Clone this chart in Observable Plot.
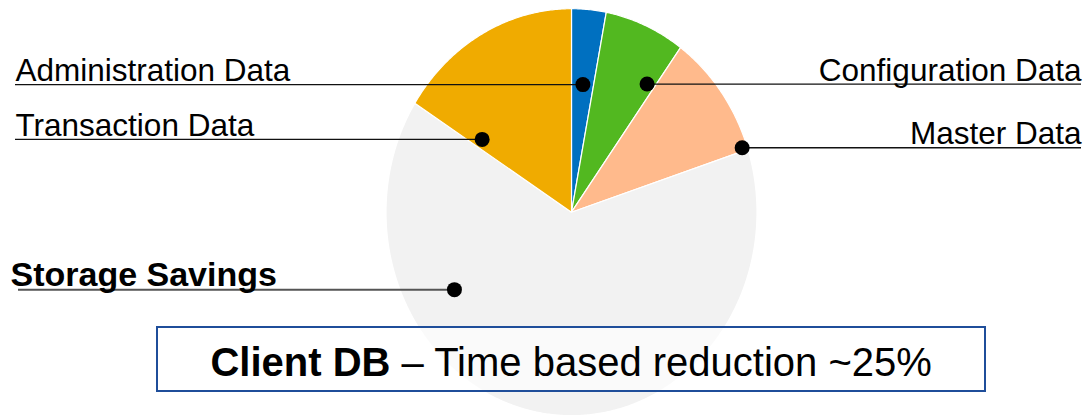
<!DOCTYPE html>
<html>
<head>
<meta charset="utf-8">
<script src="https://cdn.jsdelivr.net/npm/d3@7"></script>
<script src="https://cdn.jsdelivr.net/npm/@observablehq/plot@0.6"></script>
<style>
  html, body { margin: 0; padding: 0; background: #ffffff; }
  #chart { width: 1087px; height: 417px; overflow: hidden; }
</style>
</head>
<body>
<div id="chart"></div>
<script>
// ---- data ----
const categories = ["Administration Data", "Configuration Data", "Master Data", "Storage Savings", "Transaction Data"];
const shares = [3, 7, 10, 64, 16];
const colors = ["#0070C0", "#52B820", "#FFBA8C", "#F2F2F2", "#F0AB00"];
// where each callout dot sits: angle (deg, clockwise from 12 o'clock) and fraction of radius
const anchorAngles = [5.6, 32.9, 71, 238.9, 306.6];
const anchorRadii = [0.63, 0.75, 0.973, 0.737, 0.60];
const labelSides = ["left", "right", "right", "left", "left"];
const captionBold = "Client DB";
const captionRest = " \u2013 Time based reduction ~25%";

// ---- layout ----
const W = 1087, H = 417;
const CX = 571, CY = 211.7, RX = 185.5, RY = 203.5;   // pie centre & radii in pixels
const mL = 15, mR = 6;
const px2x = (p) => (p - CX) / RX;
const px2y = (p) => (CY - p) / RY;
const FONT = "'Liberation Sans', Arial, Helvetica, sans-serif";

// ---- slices via d3.pie ----
const arcs = d3.pie().sort(null).value(d => d)(shares);
const slices = arcs.map((a, i) => {
  const pts = [{x: 0, y: 0}];
  const n = Math.max(8, Math.ceil((a.endAngle - a.startAngle) / (Math.PI / 360)));
  for (let k = 0; k <= n; k++) {
    const t = a.startAngle + (a.endAngle - a.startAngle) * k / n;
    pts.push({x: Math.sin(t), y: Math.cos(t)});
  }
  pts.push({x: 0, y: 0});
  return {points: pts, color: colors[i]};
});

const anchors = categories.map((c, i) => {
  const t = anchorAngles[i] * Math.PI / 180;
  return {label: c, side: labelSides[i], x: anchorRadii[i] * Math.sin(t), y: anchorRadii[i] * Math.cos(t)};
});
const normalAnchors = anchors.filter(d => d.label !== "Storage Savings");
const leftA = normalAnchors.filter(d => d.side === "left");
const rightA = normalAnchors.filter(d => d.side === "right");
const storageA = anchors.filter(d => d.label === "Storage Savings");
const leftEdge = px2x(mL), rightEdge = px2x(W - mR);

// caption box
const box = [{x1: px2x(157), x2: px2x(985), y1: px2y(327), y2: px2y(391)}];
const capY = px2y(359);
const capSize = 40;
const ctx = document.createElement("canvas").getContext("2d");
ctx.font = `bold ${capSize}px ${FONT}`;
const wB = ctx.measureText(captionBold).width;
ctx.font = `${capSize}px ${FONT}`;
const wR = ctx.measureText(captionRest).width;
const splitDx = -(wB + wR) / 2 + wB;

const marks = [
  ...slices.map(s => Plot.line(s.points, {x: "x", y: "y", fill: s.color, stroke: "white", strokeWidth: 1.2, curve: "linear"})),
  Plot.ruleY(leftA, {y: "y", x1: () => leftEdge, x2: "x", stroke: "#111", strokeWidth: 1.3}),
  Plot.ruleY(rightA, {y: "y", x1: "x", x2: () => rightEdge, stroke: "#111", strokeWidth: 1.3}),
  Plot.ruleY(storageA, {y: "y", x1: () => leftEdge, x2: "x", stroke: "#555", strokeWidth: 2, dx: 3}),
  Plot.dot(anchors, {x: "x", y: "y", r: 7.5, fill: "black", stroke: "none"}),
  Plot.text(leftA, {y: "y", text: "label", frameAnchor: "left", textAnchor: "start", lineAnchor: "bottom", dy: -3.5, fontSize: 31.5, fill: "black"}),
  Plot.text(rightA, {y: "y", text: "label", frameAnchor: "right", textAnchor: "end", lineAnchor: "bottom", dy: -3.5, fontSize: 31.5, fill: "black"}),
  Plot.text(storageA, {y: "y", text: "label", frameAnchor: "left", textAnchor: "start", lineAnchor: "bottom", dx: -5, dy: -4, fontSize: 34, fontWeight: "bold", fill: "black"}),
  Plot.rect(box, {x1: "x1", x2: "x2", y1: "y1", y2: "y2", fill: "white", fillOpacity: 0.62, stroke: "#1F4E9A", strokeWidth: 2}),
  Plot.text([captionBold], {x: 0, y: capY, text: d => d, textAnchor: "end", lineAnchor: "middle", dx: splitDx, dy: 3.5, fontSize: capSize, fontWeight: "bold", fill: "black"}),
  Plot.text([captionRest], {x: 0, y: capY, text: d => d, textAnchor: "start", lineAnchor: "middle", dx: splitDx, dy: 3.5, fontSize: capSize, fill: "black"})
];

const chart = Plot.plot({
  width: W,
  height: H,
  marginLeft: mL,
  marginRight: mR,
  marginTop: 0,
  marginBottom: 0,
  x: {domain: [leftEdge, rightEdge], axis: null},
  y: {domain: [px2y(H), px2y(0)], axis: null},
  style: {fontFamily: FONT, background: "white", color: "black", overflow: "hidden"},
  marks
});
document.getElementById("chart").appendChild(chart);
</script>
</body>
</html>
